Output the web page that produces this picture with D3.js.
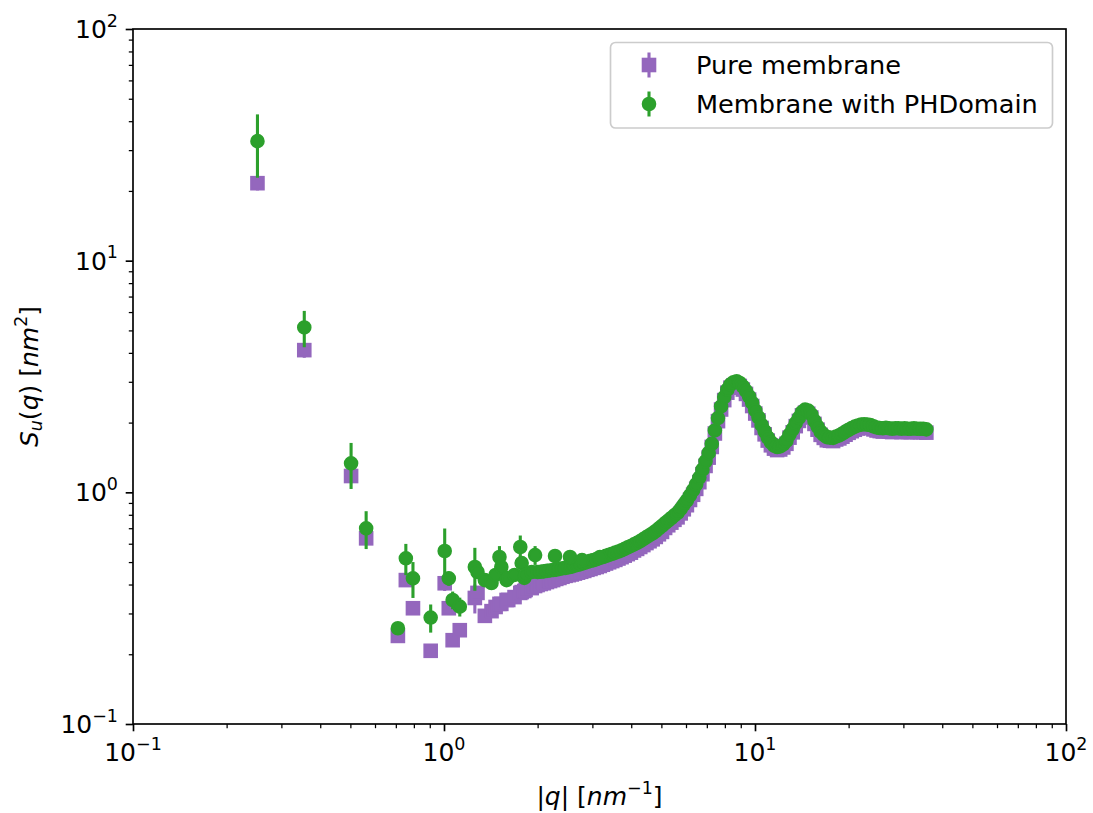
<!DOCTYPE html>
<html>
<head>
<meta charset="utf-8">
<script src="https://cdn.jsdelivr.net/npm/d3@7"></script>
<style>
  body { margin: 0; background: #fff; }
  svg { display: block; }
  text { font-family: "DejaVu Sans", sans-serif; fill: #000; }
</style>
</head>
<body>
<svg id="chart" width="1093" height="813"></svg>
<script>
// ---- data: height fluctuation spectrum S_u(q) vs |q| ----
// sparse low-q modes (with standard errors)
const qLow = [0.2513, 0.3554, 0.5026, 0.5619, 0.7108, 0.7539, 0.7947, 0.9061, 1.0052, 1.0361,
              1.0662, 1.1239, 1.2566, 1.2814, 1.3533, 1.4216, 1.4653, 1.5078, 1.5286, 1.5894,
              1.6091, 1.6858, 1.7591, 1.7770, 1.8120, 1.8295, 1.9140, 1.9630];
const sPureLow = [21.6, 4.11, 1.176, 0.633, 0.240, 0.418, 0.316, 0.207, 0.405, 0.316,
                  0.230, 0.254, 0.350, 0.368, 0.293, 0.307, 0.320, 0.330, 0.330, 0.343,
                  0.343, 0.353, 0.368, 0.371, 0.375, 0.379, 0.386, 0.394];
const errPureLow = [1.5, 0.3, 0.08, 0.04, 0.01, 0.02, 0.02, 0.01, 0.03, 0.02,
                    0.01, 0.01, 0.05, 0.02, 0.01, 0.01, 0.01, 0.01, 0.01, 0.01,
                    0.01, 0.01, 0.01, 0.01, 0.01, 0.01, 0.01, 0.01];
const sPHLow = [32.8, 5.15, 1.334, 0.699, 0.259, 0.519, 0.425, 0.288, 0.558, 0.425,
                0.343, 0.321, 0.476, 0.453, 0.418, 0.406, 0.440, 0.526, 0.476, 0.418,
                0.427, 0.440, 0.581, 0.495, 0.427, 0.440, 0.453, 0.536];
const errPHLow = [10.0, 0.92, 0.30, 0.13, 0.01, 0.08, 0.075, 0.04, 0.14, 0.03,
                  0.03, 0.03, 0.10, 0.03, 0.02, 0.02, 0.03, 0.06, 0.03, 0.02,
                  0.02, 0.02, 0.07, 0.03, 0.02, 0.02, 0.02, 0.05];

// dense high-q modes
const qDense = [2.000, 2.046, 2.094, 2.143, 2.193, 2.244, 2.296, 2.350, 2.404, 2.460,
                2.518, 2.576, 2.636, 2.698, 2.761, 2.825, 2.891, 2.958, 3.027, 3.097,
                3.170, 3.243, 3.319, 3.396, 3.475, 3.556, 3.639, 3.724, 3.811, 3.899,
                3.990, 4.083, 4.178, 4.276, 4.375, 4.477, 4.581, 4.688, 4.797, 4.909,
                5.023, 5.140, 5.260, 5.383, 5.508, 5.636, 5.768, 5.902, 6.039, 6.180,
                6.324, 6.471, 6.622, 6.776, 6.934, 7.096, 7.261, 7.430, 7.603, 7.780,
                7.962, 8.147, 8.337, 8.531, 8.730, 8.933, 9.141, 9.354, 9.572, 9.795,
                10.02, 10.26, 10.50, 10.74, 10.99, 11.25, 11.51, 11.78, 12.05, 12.33,
                12.62, 12.91, 13.22, 13.52, 13.84, 14.16, 14.49, 14.83, 15.17, 15.53,
                15.89, 16.26, 16.64, 17.02, 17.42, 17.83, 18.24, 18.67, 19.10, 19.55,
                20.00, 20.47, 20.94, 21.43, 21.93, 22.44, 22.96, 23.50, 24.04, 24.60,
                25.18, 25.76, 26.36, 26.98, 27.61, 28.25, 28.91, 29.58, 30.27, 30.97,
                31.70, 32.43, 33.19, 33.96, 34.75, 35.56];
const sPureDense = [0.398, 0.402, 0.405, 0.410, 0.414, 0.418, 0.423, 0.427, 0.432, 0.436,
                    0.439, 0.442, 0.446, 0.450, 0.454, 0.458, 0.463, 0.467, 0.472, 0.476,
                    0.481, 0.487, 0.493, 0.499, 0.505, 0.511, 0.518, 0.525, 0.533, 0.541,
                    0.549, 0.561, 0.570, 0.581, 0.592, 0.604, 0.615, 0.627, 0.642, 0.659,
                    0.675, 0.702, 0.721, 0.740, 0.761, 0.780, 0.811, 0.845, 0.880, 0.927,
                    0.976, 1.035, 1.106, 1.197, 1.300, 1.412, 1.570, 1.795, 2.029, 2.278,
                    2.501, 2.692, 2.829, 2.897, 2.926, 2.877, 2.778, 2.660, 2.515, 2.358,
                    2.189, 2.044, 1.896, 1.780, 1.673, 1.596, 1.544, 1.522, 1.531, 1.562,
                    1.620, 1.722, 1.816, 1.931, 2.034, 2.150, 2.209, 2.184, 2.104, 1.974,
                    1.864, 1.771, 1.718, 1.678, 1.670, 1.665, 1.691, 1.709, 1.738, 1.773,
                    1.807, 1.836, 1.863, 1.886, 1.901, 1.909, 1.901, 1.892, 1.869, 1.849,
                    1.838, 1.83, 1.84, 1.83, 1.82, 1.83, 1.83, 1.82, 1.83, 1.82,
                    1.82, 1.83, 1.82, 1.82, 1.82, 1.81];
const sPHDense = [0.453, 0.454, 0.456, 0.458, 0.460, 0.462, 0.464, 0.467, 0.470, 0.472,
                  0.475, 0.478, 0.483, 0.487, 0.491, 0.496, 0.501, 0.506, 0.510, 0.515,
                  0.521, 0.526, 0.532, 0.537, 0.543, 0.549, 0.555, 0.562, 0.570, 0.579,
                  0.587, 0.596, 0.605, 0.616, 0.628, 0.641, 0.653, 0.666, 0.681, 0.699,
                  0.717, 0.736, 0.755, 0.775, 0.796, 0.816, 0.849, 0.885, 0.922, 0.971,
                  1.022, 1.084, 1.158, 1.253, 1.361, 1.479, 1.619, 1.850, 2.092, 2.348,
                  2.578, 2.775, 2.917, 2.987, 3.017, 2.966, 2.864, 2.742, 2.593, 2.431,
                  2.257, 2.107, 1.955, 1.835, 1.725, 1.645, 1.592, 1.569, 1.578, 1.610,
                  1.670, 1.775, 1.872, 1.991, 2.097, 2.217, 2.277, 2.252, 2.169, 2.035,
                  1.922, 1.826, 1.771, 1.730, 1.722, 1.717, 1.743, 1.762, 1.792, 1.828,
                  1.863, 1.893, 1.921, 1.944, 1.960, 1.968, 1.960, 1.950, 1.927, 1.906,
                  1.895, 1.89, 1.90, 1.89, 1.88, 1.89, 1.89, 1.88, 1.89, 1.88,
                  1.88, 1.89, 1.88, 1.88, 1.88, 1.87];
// scattered high points of the PH-domain run
const qPHExtra = [2.275, 2.542, 2.778, 3.174];
const sPHExtra = [0.531, 0.526, 0.510, 0.526];
const errPHExtra = [0.03, 0.03, 0.02, 0.02];

const seriesNames = ["Pure membrane", "Membrane with PHDomain"];
const seriesColors = ["#9467bd", "#2ca02c"];
const tickExponents = [-1, 0, 1, 2];

// ---- layout ----
const plot = { left: 133, right: 1066, top: 29, bottom: 724 };
const FS = 25;          // base font size
const LFS = 25.6;       // legend font size
const SUP = 17.5;       // superscript font size
const MS = 12.5;        // marker size
const MEW = 2.1;        // marker edge width
const ELW = 3.1;        // error bar width
const AXW = 1.67;       // spine width

const svg = d3.select("#chart");
const x = d3.scaleLog().domain([0.1, 100]).range([plot.left, plot.right]);
const y = d3.scaleLog().domain([0.1, 100]).range([plot.bottom, plot.top]);

const pure = qLow.map((q, i) => ({ q, s: sPureLow[i], e: errPureLow[i] }))
  .concat(qDense.map((q, i) => ({ q, s: sPureDense[i], e: 0 })));
const ph = qLow.map((q, i) => ({ q, s: sPHLow[i], e: errPHLow[i] }))
  .concat(qDense.map((q, i) => ({ q, s: sPHDense[i], e: 0 })))
  .concat(qPHExtra.map((q, i) => ({ q, s: sPHExtra[i], e: errPHExtra[i] })));

// ---- series ----
function drawSeries(data, color, shape) {
  const g = svg.append("g");
  g.selectAll("line.err").data(data.filter(d => d.e > 0)).join("line")
    .attr("class", "err")
    .attr("x1", d => x(d.q)).attr("x2", d => x(d.q))
    .attr("y1", d => y(Math.max(d.s - d.e, 0.1))).attr("y2", d => y(d.s + d.e))
    .attr("stroke", color).attr("stroke-width", ELW);
  if (shape === "square") {
    g.selectAll("rect.m").data(data).join("rect")
      .attr("class", "m")
      .attr("x", d => x(d.q) - MS / 2).attr("y", d => y(d.s) - MS / 2)
      .attr("width", MS).attr("height", MS)
      .attr("fill", color).attr("stroke", color).attr("stroke-width", MEW);
  } else {
    g.selectAll("circle.m").data(data).join("circle")
      .attr("class", "m")
      .attr("cx", d => x(d.q)).attr("cy", d => y(d.s)).attr("r", MS / 2)
      .attr("fill", color).attr("stroke", color).attr("stroke-width", MEW);
  }
}
drawSeries(pure, seriesColors[0], "square");
drawSeries(ph, seriesColors[1], "circle");

// ---- axes ----
const majors = tickExponents.map(e => Math.pow(10, e));
const minors = x.ticks().filter(v => !majors.some(m => Math.abs(m - v) / m < 1e-9));

svg.append("g").attr("transform", `translate(0,${plot.bottom})`)
  .call(d3.axisBottom(x).tickValues(majors).tickSize(7.3).tickFormat(""))
  .call(g => g.select(".domain").remove())
  .call(g => g.selectAll("line").attr("stroke-width", AXW));
svg.append("g").attr("transform", `translate(0,${plot.bottom})`)
  .call(d3.axisBottom(x).tickValues(minors).tickSize(4.2).tickFormat(""))
  .call(g => g.select(".domain").remove())
  .call(g => g.selectAll("line").attr("stroke-width", 1.25));
svg.append("g").attr("transform", `translate(${plot.left},0)`)
  .call(d3.axisLeft(y).tickValues(majors).tickSize(7.3).tickFormat(""))
  .call(g => g.select(".domain").remove())
  .call(g => g.selectAll("line").attr("stroke-width", AXW));
svg.append("g").attr("transform", `translate(${plot.left},0)`)
  .call(d3.axisLeft(y).tickValues(minors).tickSize(4.2).tickFormat(""))
  .call(g => g.select(".domain").remove())
  .call(g => g.selectAll("line").attr("stroke-width", 1.25));

// frame
svg.append("rect")
  .attr("x", plot.left).attr("y", plot.top)
  .attr("width", plot.right - plot.left).attr("height", plot.bottom - plot.top)
  .attr("fill", "none").attr("stroke", "#000").attr("stroke-width", AXW);

function powLabel(sel, e) {
  sel.append("tspan").text("10");
  sel.append("tspan").attr("font-size", SUP).attr("dy", -11.5)
    .text(e < 0 ? "\u2212" + Math.abs(e) : String(e));
}
tickExponents.forEach(e => {
  const v = Math.pow(10, e);
  svg.append("text").attr("x", x(v)).attr("y", 761).attr("text-anchor", "middle")
    .attr("font-size", FS).call(powLabel, e);
  svg.append("text").attr("x", 118).attr("y", y(v) + 9).attr("text-anchor", "end")
    .attr("font-size", FS).call(powLabel, e);
});

// axis titles
const xl = svg.append("text").attr("x", (plot.left + plot.right) / 2).attr("y", 805)
  .attr("text-anchor", "middle").attr("font-size", FS);
xl.append("tspan").text("|");
xl.append("tspan").attr("font-style", "italic").text("q");
xl.append("tspan").text("| [");
xl.append("tspan").attr("font-style", "italic").text("nm");
xl.append("tspan").attr("font-size", SUP).attr("dy", -11).text("\u22121");
xl.append("tspan").attr("dy", 11).text("]");

const yl = svg.append("text")
  .attr("transform", `translate(38,${(plot.top + plot.bottom) / 2}) rotate(-90)`)
  .attr("text-anchor", "middle").attr("font-size", FS);
yl.append("tspan").attr("font-style", "italic").text("S");
yl.append("tspan").attr("font-style", "italic").attr("font-size", SUP).attr("dy", 4).text("u");
yl.append("tspan").attr("dy", -4).text("(");
yl.append("tspan").attr("font-style", "italic").text("q");
yl.append("tspan").text(") [");
yl.append("tspan").attr("font-style", "italic").text("nm");
yl.append("tspan").attr("font-size", SUP).attr("dy", -11).text("2");
yl.append("tspan").attr("dy", 11).text("]");

// ---- legend ----
const lg = svg.append("g");
lg.append("rect").attr("x", 610.5).attr("y", 42.5).attr("width", 442).attr("height", 85.5)
  .attr("rx", 5).attr("fill", "#fff").attr("fill-opacity", 0.8)
  .attr("stroke", "#cccccc").attr("stroke-width", AXW);
const rows = [65, 104];
seriesNames.forEach((name, i) => {
  const cy = rows[i], cx = 649, c = seriesColors[i];
  lg.append("line").attr("x1", cx).attr("x2", cx).attr("y1", cy - 12.5).attr("y2", cy + 12.5)
    .attr("stroke", c).attr("stroke-width", ELW);
  if (i === 0) {
    lg.append("rect").attr("x", cx - MS / 2).attr("y", cy - MS / 2).attr("width", MS).attr("height", MS)
      .attr("fill", c).attr("stroke", c).attr("stroke-width", MEW);
  } else {
    lg.append("circle").attr("cx", cx).attr("cy", cy).attr("r", MS / 2)
      .attr("fill", c).attr("stroke", c).attr("stroke-width", MEW);
  }
  lg.append("text").attr("x", 696).attr("y", cy + 9).attr("font-size", LFS).text(name);
});
</script>
</body>
</html>
